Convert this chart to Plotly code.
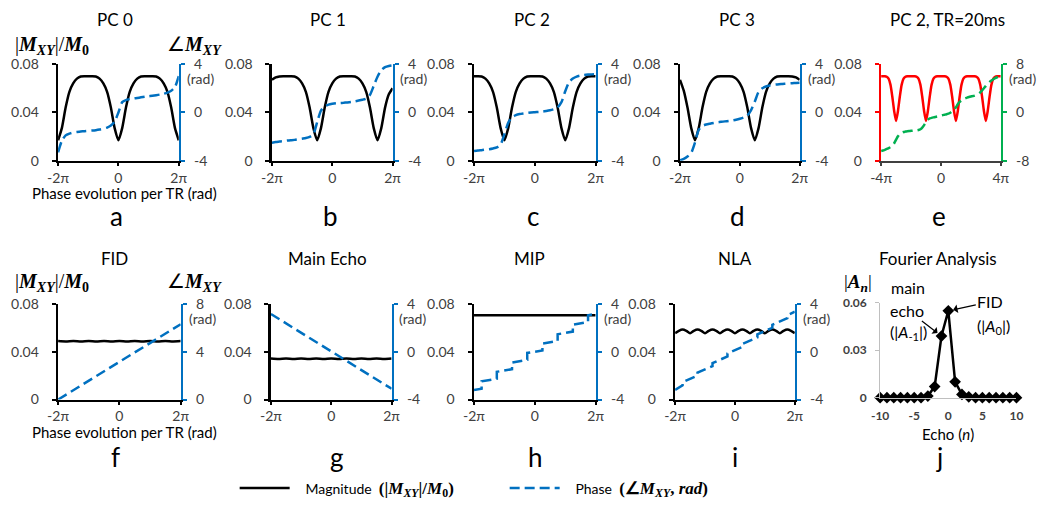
import plotly.graph_objects as go

# ---------------- data (x in units of pi) ----------------
x_pc = [-2.0, -1.875, -1.75, -1.625, -1.5, -1.375, -1.25, -1.125, -1.0, -0.875, -0.75, -0.625,
        -0.5, -0.375, -0.25, -0.125, 0.0, 0.125, 0.25, 0.375, 0.5, 0.625, 0.75, 0.875, 1.0,
        1.125, 1.25, 1.375, 1.5, 1.625, 1.75, 1.875, 2.0]
x_quarter = [-2.0, -1.75, -1.5, -1.25, -1.0, -0.75, -0.5, -0.25, 0.0, 0.25, 0.5, 0.75, 1.0,
             1.25, 1.5, 1.75, 2.0]
x_ends = [-2.0, 2.0]
x_e = [-4.0, -3.875, -3.75, -3.625, -3.5, -3.375, -3.25, -3.125, -3.0, -2.875, -2.75, -2.625,
       -2.5, -2.375, -2.25, -2.125, -2.0, -1.875, -1.75, -1.625, -1.5, -1.375, -1.25, -1.125,
       -1.0, -0.875, -0.75, -0.625, -0.5, -0.375, -0.25, -0.125, 0.0, 0.125, 0.25, 0.375, 0.5,
       0.625, 0.75, 0.875, 1.0, 1.125, 1.25, 1.375, 1.5, 1.625, 1.75, 1.875, 2.0, 2.125, 2.25,
       2.375, 2.5, 2.625, 2.75, 2.875, 3.0, 3.125, 3.25, 3.375, 3.5, 3.625, 3.75, 3.875, 4.0]

mag_pc0 = [0.017, 0.027, 0.044, 0.057, 0.064, 0.068, 0.0698, 0.070, 0.070, 0.070, 0.0698, 0.068,
           0.064, 0.057, 0.044, 0.027, 0.017, 0.027, 0.044, 0.057, 0.064, 0.068, 0.0698, 0.070,
           0.070, 0.070, 0.0698, 0.068, 0.064, 0.057, 0.044, 0.027, 0.017]
ph_pc0 = [-3.3, -2.35, -1.9, -1.75, -1.66, -1.62, -1.58, -1.55, -1.52, -1.5, -1.47, -1.42, -1.35,
          -1.25, -1.08, -0.75, 0.0, 0.85, 1.02, 1.1, 1.16, 1.2, 1.25, 1.3, 1.34, 1.38, 1.43, 1.48,
          1.55, 1.64, 1.8, 2.1, 3.0]
mag_pc1 = [0.067, 0.069, 0.0698, 0.070, 0.070, 0.070, 0.0698, 0.068, 0.064, 0.057, 0.044, 0.027,
           0.017, 0.027, 0.044, 0.057, 0.064, 0.068, 0.0698, 0.070, 0.070, 0.070, 0.0698, 0.068,
           0.064, 0.057, 0.044, 0.027, 0.017, 0.027, 0.044, 0.055, 0.060]
ph_pc1 = [-2.5, -2.45, -2.4, -2.37, -2.33, -2.3, -2.27, -2.22, -2.17, -2.12, -2.03, -1.8, -0.8,
          0.15, 0.5, 0.65, 0.72, 0.76, 0.78, 0.8, 0.83, 0.87, 0.92, 0.98, 1.05, 1.15, 1.45, 2.2,
          2.95, 3.5, 3.75, 3.85, 3.9]
mag_pc2 = [0.070, 0.070, 0.0698, 0.068, 0.064, 0.057, 0.044, 0.027, 0.017, 0.027, 0.044, 0.057,
           0.064, 0.068, 0.0698, 0.070, 0.070, 0.070, 0.0698, 0.068, 0.064, 0.057, 0.044, 0.027,
           0.017, 0.027, 0.044, 0.057, 0.064, 0.068, 0.0698, 0.070, 0.070]
ph_pc2 = [-3.2, -3.15, -3.12, -3.08, -3.04, -2.98, -2.9, -2.65, -1.8, -0.85, -0.4, -0.22, -0.13,
          -0.08, -0.04, 0.0, 0.02, 0.04, 0.07, 0.12, 0.18, 0.27, 0.42, 0.85, 1.75, 2.5, 2.8, 2.97,
          3.05, 3.1, 3.13, 3.15, 3.17]
mag_pc3 = [0.067, 0.058, 0.044, 0.027, 0.017, 0.027, 0.044, 0.057, 0.064, 0.068, 0.0698, 0.070,
           0.070, 0.070, 0.0698, 0.068, 0.064, 0.057, 0.044, 0.027, 0.017, 0.027, 0.044, 0.057,
           0.064, 0.068, 0.0698, 0.070, 0.070, 0.070, 0.0698, 0.069, 0.067]
ph_pc3 = [-3.95, -3.85, -3.65, -3.35, -2.5, -1.45, -1.12, -1.0, -0.93, -0.87, -0.82, -0.78, -0.74,
          -0.7, -0.66, -0.6, -0.52, -0.42, -0.25, 0.2, 0.9, 1.7, 2.0, 2.15, 2.23, 2.28, 2.32, 2.35,
          2.38, 2.4, 2.42, 2.44, 2.46]
mag_e = [0.070,
         0.070, 0.070, 0.0695, 0.068, 0.063, 0.053, 0.041, 0.033, 0.041, 0.053, 0.063, 0.068, 0.0695, 0.070, 0.070, 0.070,
         0.070, 0.070, 0.0695, 0.068, 0.063, 0.053, 0.041, 0.033, 0.041, 0.053, 0.063, 0.068, 0.0695, 0.070, 0.070, 0.070,
         0.070, 0.070, 0.0695, 0.068, 0.063, 0.053, 0.041, 0.033, 0.041, 0.053, 0.063, 0.068, 0.0695, 0.070, 0.070, 0.070,
         0.070, 0.070, 0.0695, 0.068, 0.063, 0.053, 0.041, 0.033, 0.041, 0.053, 0.063, 0.068, 0.0695, 0.070, 0.070, 0.070]
ph_e = [-6.4, -6.3, -6.2, -6.05, -5.9, -5.75, -5.55, -5.1, -4.5, -3.95, -3.55, -3.35, -3.23, -3.17,
        -3.12, -3.08, -3.05, -3.02, -3.0, -2.97, -2.9, -2.78, -2.5, -2.1, -1.6, -1.2, -1.0, -0.9,
        -0.82, -0.75, -0.68, -0.6, -0.52, -0.44, -0.37, -0.3, -0.2, -0.05, 0.2, 0.45, 0.85, 1.35,
        1.75, 2.0, 2.2, 2.33, 2.45, 2.55, 2.63, 2.7, 2.78, 2.9, 3.05, 3.3, 3.65, 4.0, 4.4, 4.75,
        5.05, 5.3, 5.5, 5.68, 5.82, 5.95, 6.1]

mag_fid = [0.0489, 0.0486, 0.0489, 0.0486, 0.0489, 0.0486, 0.0489, 0.0486, 0.0489, 0.0486, 0.0489,
           0.0486, 0.0489, 0.0486, 0.0489, 0.0486, 0.0489]
ph_fid = [0.0, 6.3]
mag_echo = [0.0343, 0.0339, 0.0343, 0.0339, 0.0343, 0.0339, 0.0343, 0.0339, 0.0343, 0.0339, 0.0343,
            0.0339, 0.0343, 0.0339, 0.0343, 0.0339, 0.0343]
ph_echo = [3.15, -3.1]
mag_mip = [0.0705, 0.0705]
x_mip_ph = [-2.0, -1.75, -1.75, -1.25, -1.25, -0.75, -0.75, -0.25, -0.25, 0.25, 0.25, 0.75, 0.75,
            1.25, 1.25, 1.75, 1.75, 2.0]
ph_mip = [-3.2, -3.1, -2.48, -2.26, -1.68, -1.46, -0.9, -0.68, -0.1, 0.1, 0.68, 0.9, 1.46, 1.68,
          2.26, 2.48, 3.05, 3.15]
mag_nla = [0.0555, 0.0575, 0.0585, 0.0575, 0.0555, 0.0575, 0.0585, 0.0575, 0.0555, 0.0575, 0.0585,
           0.0575, 0.0555, 0.0575, 0.0585, 0.0575, 0.0555, 0.0575, 0.0585, 0.0575, 0.0555, 0.0575,
           0.0585, 0.0575, 0.0555, 0.0575, 0.0585, 0.0575, 0.0555, 0.0575, 0.0585, 0.0575, 0.0555]
x_nla_ph = [-2.0, -1.75, -1.75, -1.25, -1.25, -0.75, -0.75, -0.25, -0.25, 0.25, 0.25, 0.75, 0.75,
            1.25, 1.25, 1.75, 1.75, 2.0]
ph_nla = [-3.2, -2.8, -2.55, -2.0, -1.75, -1.2, -0.95, -0.4, -0.15, 0.4, 0.65, 1.2, 1.45, 2.0,
          2.25, 2.8, 3.05, 3.35]

echo_n = [-10, -9, -8, -7, -6, -5, -4, -3, -2, -1, 0, 1, 2, 3, 4, 5, 6, 7, 8, 9, 10]
echo_amp = [0, 0, 0, 0, 0, 0, 0, 0.001, 0.007, 0.039, 0.055, 0.010, 0.002, 0.0005, 0, 0, 0, 0, 0,
            0, 0]

titles = ["PC 0", "PC 1", "PC 2", "PC 3", "PC 2, TR=20ms",
          "FID", "Main Echo", "MIP", "NLA", "Fourier Analysis"]
letters = ["a", "b", "c", "d", "e", "f", "g", "h", "i", "j"]
pi_ticks = ["-2π", "0", "2π"]
pi_ticks_e = ["-4π", "0", "4π"]

# ---------------- layout geometry (pixels) ----------------
W, H = 1050, 511
BLUE, RED, GREEN = "#0070C0", "#FF0000", "#00B050"
TXT = "#404040"
FONT = "Lato"
SERIF = "Liberation Serif"


def fx(px):
    return px / W


def fy(py):
    return 1 - py / H


# left, right, top, bottom of each plot area
BOX = {1: (48, 171, 57, 157), 2: (266, 389, 57, 157), 3: (472, 596, 57, 157),
       4: (682, 804, 57, 157), 5: (887, 1009, 57, 157),
       6: (48, 173, 305, 404), 7: (265, 388, 305, 404), 8: (472, 596, 305, 404),
       9: (677, 799, 305, 404), 10: (886, 1025, 304, 402)}
TITLE_X = {1: 106, 2: 323, 3: 531, 4: 740, 5: 955, 6: 105, 7: 323, 8: 529, 9: 738, 10: 945}
LETTER_X = {1: 108, 2: 326, 3: 532, 4: 741, 5: 946, 6: 107, 7: 332, 8: 535, 9: 738, 10: 947}


def sfx(n):
    return "" if n == 1 else str(n)


fig = go.Figure()

GAP = "\u00a0\u00a0\u00a0"
MAG_NAME = (GAP + 'Magnitude  <span style="font-family:Liberation Serif;font-size:17px"><b>(|<i>M</i>'
            '<sub><i>XY</i></sub>|/<i>M</i><sub>0</sub>)</b></span>')
PH_NAME = (GAP + 'Phase  <span style="font-family:Liberation Serif;font-size:17px"><b>(∠<i>M</i>'
           '<sub><i>XY</i></sub>, <i>rad</i>)</b></span>')


def add_mag(p, x, y, color="black", spline=True, legend=False):
    fig.add_trace(go.Scatter(
        x=x, y=y, mode="lines", xaxis="x" + sfx(p), yaxis="y" + sfx(p),
        line=dict(color=color, width=2.5, shape="spline" if spline else "linear", smoothing=0.6),
        name=MAG_NAME, showlegend=legend, legendgroup="mag", hoverinfo="skip"))


def add_ph(p, x, y, color=BLUE, spline=True, legend=False):
    fig.add_trace(go.Scatter(
        x=x, y=y, mode="lines", xaxis="x" + sfx(p), yaxis="y" + sfx(10 + p),
        line=dict(color=color, width=2.5, dash="10px,5px",
                  shape="spline" if spline else "linear", smoothing=0.6),
        name=PH_NAME, showlegend=legend, legendgroup="ph", hoverinfo="skip"))


add_mag(1, x_pc, mag_pc0, legend=True)
add_ph(1, x_pc, ph_pc0, legend=True)
add_mag(2, x_pc, mag_pc1)
add_ph(2, x_pc, ph_pc1)
add_mag(3, x_pc, mag_pc2)
add_ph(3, x_pc, ph_pc2)
add_mag(4, x_pc, mag_pc3)
add_ph(4, x_pc, ph_pc3)
add_mag(5, x_e, mag_e, color=RED)
add_ph(5, x_e, ph_e, color=GREEN)
add_mag(6, x_quarter, mag_fid)
add_ph(6, x_ends, ph_fid, spline=False)
add_mag(7, x_quarter, mag_echo)
add_ph(7, x_ends, ph_echo, spline=False)
add_mag(8, x_ends, mag_mip, spline=False)
add_ph(8, x_mip_ph, ph_mip, spline=False)
add_mag(9, x_pc, mag_nla)
add_ph(9, x_nla_ph, ph_nla, spline=False)

fig.add_trace(go.Scatter(
    x=echo_n, y=echo_amp, mode="lines+markers", xaxis="x10", yaxis="y10",
    line=dict(color="black", width=2.5), marker=dict(symbol="diamond", size=9, color="black"),
    cliponaxis=False, showlegend=False, hoverinfo="skip"))

tickfont = dict(family=FONT, size=14, color=TXT)
layout = dict(width=W, height=H, margin=dict(l=0, r=0, t=0, b=0),
              paper_bgcolor="white", plot_bgcolor="white", hovermode=False)

for p in range(1, 10):
    l, r, t, b = BOX[p]
    xcol = "#404040" if p == 5 else "black"
    lcol = RED if p == 5 else "black"
    rcol = GREEN if p == 5 else BLUE
    xr = [-4, 4] if p == 5 else [-2, 2]
    layout["xaxis" + sfx(p)] = dict(
        domain=[fx(l), fx(r)], range=xr, anchor="y" + sfx(p),
        tickvals=[xr[0], 0, xr[1]], ticktext=pi_ticks_e if p == 5 else pi_ticks,
        showline=True, linecolor=xcol, linewidth=2, ticks="outside", ticklen=3, tickwidth=2,
        tickcolor=xcol, tickfont=tickfont, showgrid=False, zeroline=False, ticklabelstandoff=0)
    layout["yaxis" + sfx(p)] = dict(
        domain=[fy(b), fy(t)], range=[0, 0.08], anchor="x" + sfx(p),
        tickvals=[0, 0.04, 0.08], ticktext=["0", "0.04", "0.08"],
        showline=True, linecolor=lcol, linewidth=2.5, ticks="outside", ticklen=4, tickwidth=2,
        tickcolor=lcol, tickfont=tickfont, showgrid=False, zeroline=False, ticklabelstandoff=10)
    rr = [-8, 8] if p == 5 else ([0, 8] if p == 6 else [-4, 4])
    layout["yaxis" + str(10 + p)] = dict(
        range=rr, overlaying="y" + sfx(p), side="right", anchor="x" + sfx(p),
        tickvals=[rr[0], (rr[0] + rr[1]) / 2, rr[1]],
        ticktext=[str(rr[0]), str((rr[0] + rr[1]) // 2), str(rr[1])],
        showline=True, linecolor=rcol, linewidth=2.5, ticks="outside", ticklen=4, tickwidth=2,
        tickcolor=rcol, tickfont=tickfont, showgrid=False, zeroline=False, ticklabelstandoff=6)

l, r, t, b = BOX[10]
boldfont = dict(family=FONT, size=12, color=TXT, weight="bold")
layout["xaxis10"] = dict(domain=[fx(l), fx(r)], range=[-10, 10], anchor="y10",
                         tickvals=[-10, -5, 0, 5, 10], ticktext=["-10", "-5", "0", "5", "10"],
                         showline=True, linecolor="#BFBFBF", linewidth=1, ticks="",
                         tickfont=boldfont, showgrid=False, zeroline=False, ticklabelstandoff=7)
layout["yaxis10"] = dict(domain=[fy(b), fy(t)], range=[0, 0.06], anchor="x10",
                         tickvals=[0, 0.03, 0.06], ticktext=["0", "0.03", "0.06"],
                         showline=True, linecolor="#BFBFBF", linewidth=1, ticks="outside",
                         ticklen=4, tickcolor="#BFBFBF", tickfont=boldfont, showgrid=False,
                         zeroline=False, ticklabelstandoff=6)

ann = []


def text(t, px, py, size=15, family=FONT, color="black", xanchor="center", **kw):
    ann.append(dict(text=t, x=fx(px), y=fy(py), xref="paper", yref="paper", showarrow=False,
                    xanchor=xanchor, yanchor="middle",
                    font=dict(family=family, size=size, color=color), **kw))


for p in range(1, 11):
    ty = 11 if p <= 5 else 258
    ly = 214 if p <= 5 else 463
    text(titles[p - 1], TITLE_X[p], ty, size=17)
    text(letters[p - 1], LETTER_X[p], ly, size=26)
for p in range(1, 10):
    l, r, t, b = BOX[p]
    text("(rad)", r + 6, t + 15, size=14, color=TXT, xanchor="left")

MXY = ('|<b><i>M</i></b><sub><b><i>XY</i></b></sub>|/<b><i>M</i></b><sub><b>0</b></sub>')
ANG = '∠<b><i>M</i></b><sub><b><i>XY</i></b></sub>'
for yy in (38, 283):
    text(MXY, 42, yy, size=20, family=SERIF)
    text(ANG, 187, yy, size=20, family=SERIF)
text("Phase evolution per TR (rad)", 116, 190, size=15)
text("Phase evolution per TR (rad)", 116, 438, size=15)

# Fourier panel text
text('|<b><i>A</i></b><sub><b><i>n</i></b></sub>|', 863, 283, size=19, family=SERIF)
text('Echo (<i>n</i>)', 955, 440, size=15)
text('main', 914, 288, size=16)
text('(|<i>A</i><sub>-1</sub>|)', 915, 335, size=16)
text('(|<i>A</i><sub>0</sub>|)', 1002, 328, size=16)
ann.append(dict(text="FID", x=0, y=0.055, xref="x10", yref="y10", ax=42, ay=-9, showarrow=True,
                arrowhead=1, arrowsize=1.2, arrowwidth=1.2, arrowcolor="black", standoff=5,
                font=dict(family=FONT, size=16, color="black")))
ann.append(dict(text="echo", x=-1, y=0.039, xref="x10", yref="y10", ax=-34, ay=-26, showarrow=True,
                arrowhead=1, arrowsize=1.2, arrowwidth=1.2, arrowcolor="black", standoff=5,
                font=dict(family=FONT, size=16, color="black")))

layout["annotations"] = ann
layout["showlegend"] = True
layout["legend"] = dict(orientation="h", x=fx(228), y=fy(496), xanchor="left", yanchor="middle",
                        itemwidth=50, entrywidth=205, entrywidthmode="pixels",
                        font=dict(family=FONT, size=14, color="black"),
                        bgcolor="rgba(0,0,0,0)")

fig.update_layout(**layout)
fig.write_html("out.html", config={"displayModeBar": False, "staticPlot": True},
               post_script="document.body.style.margin='0';")
